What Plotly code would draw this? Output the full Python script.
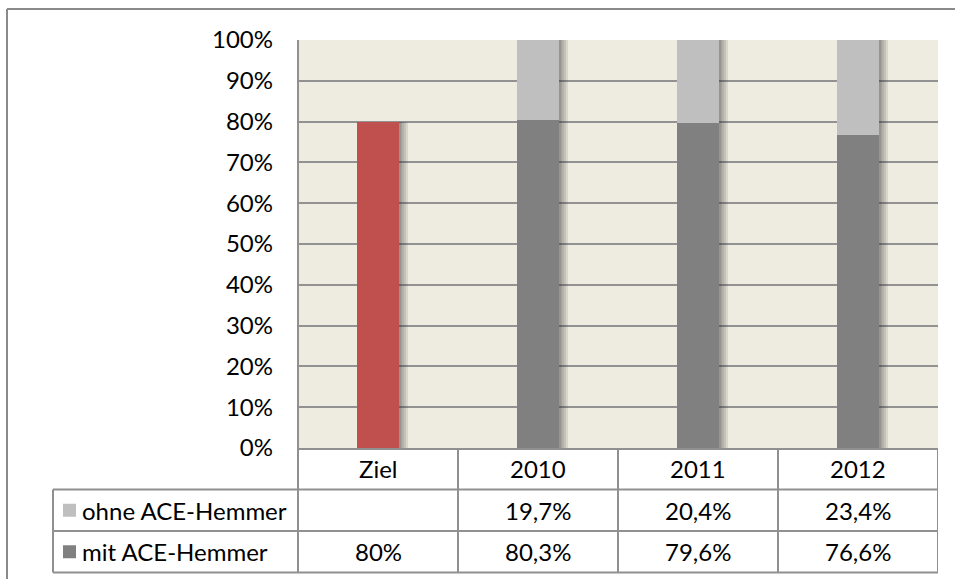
import plotly.graph_objects as go

categories = ["Ziel", "2010", "2011", "2012"]
mit_ace = [80.0, 80.3, 79.6, 76.6]
ohne_ace = [None, 19.7, 20.4, 23.4]
series_names = ["ohne ACE-Hemmer", "mit ACE-Hemmer"]
y_ticks = [0, 10, 20, 30, 40, 50, 60, 70, 80, 90, 100]

RED = "#C0504D"
DARK = "#808080"
LIGHT = "#BFBFBF"
BG = "#EEEBE0"
LINE = "#909090"
FONT = "Lato"
FS = 24

W, H = 955, 579
L, R, T, B = 298, 17, 40, 131
PW = W - L - R
PH = H - T - B

def px_x(p):
    return (p - L) / PW

def px_y(p):
    return (H - B - p) / PH

def fmt(v):
    if v is None:
        return ""
    if abs(v - round(v)) < 1e-9:
        return f"{int(round(v))}%"
    return f"{v:.1f}".replace(".", ",") + "%"

bar_w = 0.26
unit_px = 1.0 / (PW / len(categories))
mit_colors = [RED if c == "Ziel" else DARK for c in categories]
totals = [m + (o or 0) for m, o in zip(mit_ace, ohne_ace)]

fig = go.Figure()

# soft shadows on the right side of bars
for k in range(1, 6):
    ext = k * 1.8 * unit_px
    fig.add_trace(go.Bar(
        x=categories, y=totals, base=0,
        width=bar_w + ext - 2 * unit_px, offset=-bar_w / 2 + 2 * unit_px,
        marker=dict(color="rgba(60,60,60,0.12)", line=dict(width=0)),
        hoverinfo="skip", showlegend=False,
    ))

fig.add_trace(go.Bar(
    x=categories, y=mit_ace, base=0, name=series_names[1],
    width=bar_w, offset=-bar_w / 2,
    marker=dict(color=mit_colors, line=dict(width=0)), showlegend=False,
))
fig.add_trace(go.Bar(
    x=categories, y=[o if o is not None else 0 for o in ohne_ace],
    base=mit_ace, name=series_names[0],
    width=bar_w, offset=-bar_w / 2,
    marker=dict(color=LIGHT, line=dict(width=0)), showlegend=False,
))

shapes = []
annotations = []

# chart outer border (top and left visible)
shapes.append(dict(type="line", xref="paper", yref="paper",
                   x0=px_x(7), x1=px_x(W + 5), y0=px_y(9), y1=px_y(9),
                   line=dict(color="#8A8A8A", width=2)))
shapes.append(dict(type="line", xref="paper", yref="paper",
                   x0=px_x(7), x1=px_x(7), y0=px_y(9), y1=px_y(H + 5),
                   line=dict(color="#8A8A8A", width=2)))

row_h = 41.5
y_axis_px = H - B
row_tops = [y_axis_px, y_axis_px + row_h, y_axis_px + 2 * row_h, y_axis_px + 3 * row_h]
table_left = 53

# horizontal table lines
for yt in row_tops[1:]:
    shapes.append(dict(type="line", xref="paper", yref="paper",
                       x0=px_x(table_left), x1=1, y0=px_y(yt), y1=px_y(yt),
                       line=dict(color=LINE, width=2)))
# vertical lines
shapes.append(dict(type="line", xref="paper", yref="paper",
                   x0=px_x(table_left), x1=px_x(table_left),
                   y0=px_y(row_tops[1]), y1=px_y(row_tops[3]),
                   line=dict(color=LINE, width=2)))
shapes.append(dict(type="line", xref="paper", yref="paper",
                   x0=0, x1=0, y0=1, y1=px_y(row_tops[3]),
                   line=dict(color=LINE, width=2)))
for i in range(1, len(categories) + 1):
    xb = i - 0.5
    shapes.append(dict(type="line", xref="x", yref="paper",
                       x0=xb, x1=xb, y0=0, y1=px_y(row_tops[3]),
                       line=dict(color=LINE, width=2)))

# header row
for i, c in enumerate(categories):
    annotations.append(dict(x=i, y=px_y((row_tops[0] + row_tops[1]) / 2),
                            xref="x", yref="paper", text=c, showarrow=False,
                            font=dict(family=FONT, size=FS, color="black"),
                            xanchor="center", yanchor="middle"))

rows = [(series_names[0], ohne_ace, LIGHT), (series_names[1], mit_ace, DARK)]
for r, (name, vals, col) in enumerate(rows):
    yc = (row_tops[r + 1] + row_tops[r + 2]) / 2
    shapes.append(dict(type="rect", xref="paper", yref="paper",
                       x0=px_x(63), x1=px_x(76), y0=px_y(yc - 6.5), y1=px_y(yc + 6.5),
                       fillcolor=col, line=dict(width=0)))
    annotations.append(dict(x=px_x(80), y=px_y(yc), xref="paper", yref="paper",
                            text=name, showarrow=False,
                            font=dict(family=FONT, size=FS, color="black"),
                            xanchor="left", yanchor="middle"))
    for i, v in enumerate(vals):
        if v is None:
            continue
        annotations.append(dict(x=i, y=px_y(yc), xref="x", yref="paper",
                                text=fmt(v), showarrow=False,
                                font=dict(family=FONT, size=FS, color="black"),
                                xanchor="center", yanchor="middle"))

fig.update_layout(
    width=W, height=H, autosize=False,
    margin=dict(l=L, r=R, t=T, b=B, pad=0),
    paper_bgcolor="white", plot_bgcolor=BG,
    barmode="overlay", bargap=0,
    showlegend=False,
    shapes=shapes, annotations=annotations,
    xaxis=dict(type="category", categoryorder="array", categoryarray=categories,
               range=[-0.5, len(categories) - 0.5],
               showticklabels=False, showgrid=False, zeroline=False,
               showline=True, linecolor=LINE, linewidth=2, ticks=""),
    yaxis=dict(range=[0, 100], tickvals=y_ticks,
               ticktext=[f"{t}%" for t in y_ticks],
               showgrid=True, gridcolor="#929292", gridwidth=2,
               zeroline=False, showline=False, ticks="",
               ticklabelstandoff=24,
               tickfont=dict(family=FONT, size=FS, color="black")),
)

fig.write_html(
    "out.html",
    config={"displayModeBar": False},
    post_script="document.body.style.margin='0';document.body.style.overflow='hidden';",
)
